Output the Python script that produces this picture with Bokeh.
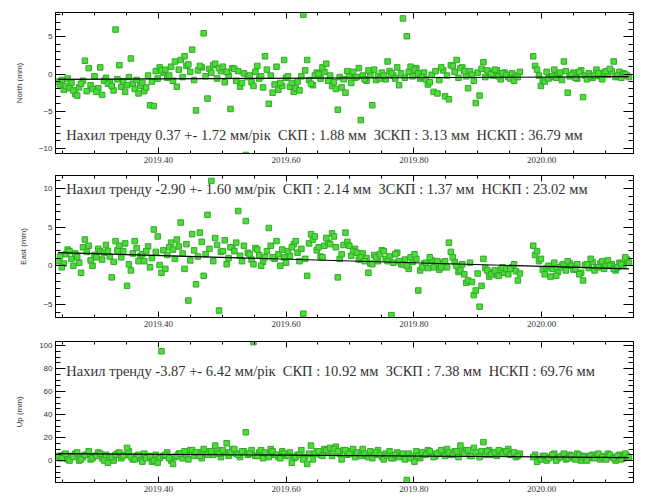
from bokeh.plotting import figure
from bokeh.layouts import column
from bokeh.models import (ColumnDataSource, FixedTicker, PrintfTickFormatter, LinearAxis,
                          Label, CustomJSTickFormatter, Range1d)
from bokeh.embed import file_html
from bokeh.resources import INLINE

# ---------------- data ----------------
epochs = [
    2019.243, 2019.249, 2019.255, 2019.261, 2019.267, 2019.273, 2019.279, 2019.285, 2019.291, 2019.297,
    2019.303, 2019.309, 2019.315, 2019.321, 2019.327, 2019.333, 2019.339, 2019.345, 2019.351, 2019.357,
    2019.363, 2019.369, 2019.375, 2019.381, 2019.387, 2019.393, 2019.399, 2019.405, 2019.411, 2019.417,
    2019.423, 2019.429, 2019.435, 2019.441, 2019.447, 2019.453, 2019.459, 2019.465, 2019.471, 2019.477,
    2019.483, 2019.489, 2019.495, 2019.501, 2019.507, 2019.513, 2019.519, 2019.525, 2019.531, 2019.537,
    2019.543, 2019.549, 2019.555, 2019.561, 2019.567, 2019.573, 2019.579, 2019.585, 2019.591, 2019.597,
    2019.603, 2019.609, 2019.615, 2019.621, 2019.627, 2019.633, 2019.639, 2019.645, 2019.651, 2019.657,
    2019.663, 2019.669, 2019.675, 2019.681, 2019.687, 2019.693, 2019.699, 2019.705, 2019.711, 2019.717,
    2019.723, 2019.729, 2019.735, 2019.741, 2019.747, 2019.753, 2019.759, 2019.765, 2019.771, 2019.777,
    2019.783, 2019.789, 2019.795, 2019.801, 2019.807, 2019.813, 2019.819, 2019.825, 2019.831, 2019.837,
    2019.843, 2019.849, 2019.855, 2019.861, 2019.867, 2019.873, 2019.879, 2019.885, 2019.891, 2019.897,
    2019.903, 2019.909, 2019.915, 2019.921, 2019.927, 2019.933, 2019.939, 2019.945, 2019.951, 2019.957,
    2019.963,
    2019.987, 2019.993, 2019.999, 2020.005, 2020.011, 2020.017, 2020.023, 2020.029, 2020.035, 2020.041,
    2020.047, 2020.053, 2020.059, 2020.065, 2020.071, 2020.077, 2020.083, 2020.089, 2020.095, 2020.101,
    2020.107, 2020.113, 2020.119, 2020.125, 2020.131, 2020.137,
]

north = [
    -1.0, -0.8, -1.6, -1.9, -2.2, -2.9, -1.3, 1.8, 0.8, -2.0,
    -2.4, 0.9, -0.9, -1.3, -1.6, 6.0, 1.2, -1.0, -1.5, 2.1,
    -2.0, -2.6, -1.2, -1.8, -4.2, -4.3, -0.6, 0.5, 0.6, -0.2,
    -0.9, -1.7, 1.9, 2.4, 1.3, 3.3, -4.9, 1.1, 5.5, -3.3,
    0.2, 1.4, 0.8, 1.0, 0.3, -4.7, 0.7, 0.4, -1.2, -10.9,
    -0.2, -1.6, 1.1, -0.3, 2.4, -4.0, -2.5, 1.0, -1.2, 1.9,
    -0.3, -1.2, -1.9, -2.2, 8.0, 1.9, -1.3, -0.2, 0.0, 0.9,
    1.4, -0.2, -1.1, -4.8, -1.8, -2.5, -0.3, 0.3, -0.4, -6.2,
    -0.7, 0.5, -4.2, -0.8, -0.6, -0.2, 1.7, 0.1, -0.6, -1.5,
    7.5, 5.1, 1.0, 0.6, 0.1, -0.4, -0.7, -1.1, -2.4, -2.6,
    0.9, -3.0, -3.4, 1.1, 1.9, 0.8, 0.4, -1.9, -0.1, -3.9,
    -2.9, 1.6, 0.5, 0.0, 0.6, -0.3, 0.1, -0.1, -0.6, -0.9,
    -0.4,
    2.4, 0.6, -1.6, -1.0, -0.6, -0.3, -0.5, 0.2, 1.7, -2.5,
    -0.1, -0.5, 0.3, -3.1, -0.7, -0.3, -0.2, 0.1, -0.7, 0.4,
    0.7, 1.7, -0.2, -0.5, 0.0, -0.4,
]

east = [
    0.6, -0.2, 1.5, 1.9, 0.0, 1.1, -0.9, 3.4, 2.6, 0.0,
    1.1, 1.9, 1.7, 1.9, -1.5, 3.2, 2.6, 1.9, -2.6, -0.6,
    3.2, 0.6, 1.5, 1.9, -0.2, 4.7, 3.8, -0.9, -0.4, 2.4,
    2.1, 3.4, 5.6, -0.4, -4.5, 4.1, -2.4, 4.3, -1.3, 6.6,
    11.0, 3.6, -5.8, 1.9, 0.2, 2.4, 1.9, 7.1, 0.6, 5.8,
    1.5, 0.2, 2.1, 0.0, 1.1, 4.9, 1.1, 3.2, 0.0, 1.1,
    1.9, 2.4, 3.2, 0.6, -6.2, -1.3, 4.1, 3.8, 2.4, 1.1,
    3.6, 2.8, 3.8, -1.5, 1.5, 4.3, 2.6, 1.9, 1.7, 1.1,
    0.6, -0.9, 0.2, 1.1, 1.5, 1.9, 0.6, -6.4, 1.5, 0.6,
    0.2, 0.0, 1.1, 1.5, -3.2, -0.2, 0.4, 1.1, -0.2, 0.6,
    -0.2, 0.6, 3.0, 1.1, 0.0, -0.6, -1.1, -1.9, -2.1, -3.2,
    -5.3, 0.9, -0.6, -1.1, -0.6, -1.3, -0.2, -0.4, -0.4, 0.2,
    -1.9,
    2.6, 1.9, 0.9, -1.1, 0.0, -0.4, -1.3, -0.2, 0.2, 0.6,
    0.0, -0.4, -1.1, -1.9, 0.2, 0.9, -0.6, -0.2, 0.6, 0.0,
    0.0, -0.4, -0.2, 0.2, 1.1, 0.4,
]

up = [
    4, 2, 6, 0, 3, 7, 1, 5, 8, 2,
    4, 6, 0, -2, 3, 5, 7, 4, 11, 3,
    1, 5, -1, 2, 4, 0, -2, 95, 5, 2,
    -3, 4, 6, 8, 1, 9, 7, 4, 10, 5,
    8, 13, 6, 9, 15, 7, 10, 5, 8, 24.6,
    6, 103, 4, 9, 7, 3, 8, 5, 2, 6,
    4, -2, 3, 5, 1, -3, 13, 6, 8, 4,
    9, 11, 10, 8, 1, 9, 6, 10, 7, 4,
    6, 3, 2, 7, 5, 1, 4, 2, 5, 3,
    6, -17, 2, -1, 4, 7, 5, 8, 3, 6,
    9, 4, 7, 5, 8, 13, 6, 9, 4, 7,
    3, 16, 8, 5, 7, 9, 6, 8, 5, 7,
    4,
    3, -1, 1, 4, 2, 5, 0, 3, 6, 2,
    4, 1, 5, 3, 0, 4, 2, 6, 3, 1,
    5, 2, 4, 1, 6, 3,
]

# second (interleaved) set of daily solutions
epochs_b = [
    2019.246, 2019.252, 2019.258, 2019.264, 2019.270, 2019.276, 2019.282, 2019.288, 2019.294, 2019.300,
    2019.306, 2019.312, 2019.318, 2019.324, 2019.330, 2019.336, 2019.342, 2019.348, 2019.354, 2019.360,
    2019.366, 2019.372, 2019.378, 2019.384, 2019.390, 2019.396, 2019.402, 2019.408, 2019.414, 2019.420,
    2019.426, 2019.432, 2019.438, 2019.444, 2019.450, 2019.456, 2019.462, 2019.468, 2019.474, 2019.480,
    2019.486, 2019.492, 2019.498, 2019.504, 2019.510, 2019.516, 2019.522, 2019.528, 2019.534, 2019.540,
    2019.546, 2019.552, 2019.558, 2019.564, 2019.570, 2019.576, 2019.582, 2019.588, 2019.594, 2019.600,
    2019.606, 2019.612, 2019.618, 2019.624, 2019.630, 2019.636, 2019.642, 2019.648, 2019.654, 2019.660,
    2019.666, 2019.672, 2019.678, 2019.684, 2019.690, 2019.696, 2019.702, 2019.708, 2019.714, 2019.720,
    2019.726, 2019.732, 2019.738, 2019.744, 2019.750, 2019.756, 2019.762, 2019.768, 2019.774, 2019.780,
    2019.786, 2019.792, 2019.798, 2019.804, 2019.810, 2019.816, 2019.822, 2019.828, 2019.834, 2019.840,
    2019.846, 2019.852, 2019.858, 2019.864, 2019.870, 2019.876, 2019.882, 2019.888, 2019.894, 2019.900,
    2019.906, 2019.912, 2019.918, 2019.924, 2019.930, 2019.936, 2019.942, 2019.948, 2019.954, 2019.960,
    2019.966,
    2019.990, 2019.996, 2020.002, 2020.008, 2020.014, 2020.020, 2020.026, 2020.032, 2020.038, 2020.044,
    2020.050, 2020.056, 2020.062, 2020.068, 2020.074, 2020.080, 2020.086, 2020.092, 2020.098, 2020.104,
    2020.110, 2020.116, 2020.122, 2020.128, 2020.134,
]

north_b = [
    -1.4, -2.1, -0.6, -1.2, -2.7, -1.8, -0.9, -2.3, -1.5, -0.3,
    -1.9, -2.8, -0.5, -1.1, -2.2, -0.7, -1.7, -2.4, -0.4, -1.3,
    -0.8, -1.6, -2.3, -0.2, -1.0, 0.4, 0.9, 0.2, -0.5, 1.0,
    1.7, 0.6, -0.4, 1.1, 0.3, -0.8, 0.5, 0.9, -0.3, 0.7,
    1.2, -0.6, 0.4, -1.1, -0.2, 0.8, -0.9, -1.7, 0.1, -0.4,
    -1.1, 0.3, -0.6, -1.8, 0.6, -0.2, -1.4, -2.1, -1.6, -0.5,
    -1.7, -2.4, -1.0, -0.3, 0.5, -0.8, -1.5, 0.2, -0.6, 0.3,
    -0.9, -1.6, -2.0, -0.4, -0.7, 0.4, -1.2, -0.5, 0.8, -0.2,
    -0.9, -0.1, 0.6, -0.3, 0.2, -0.7, 0.4, -0.2, 0.9, 0.1,
    -0.5, 0.3, -0.3, 0.8, -0.6, 0.2, -1.4, -0.1, 0.4, -0.8,
    0.5, -0.2, 1.2, 0.3, -0.5, 0.9, -0.3, 0.4, -0.9, 0.2,
    0.7, -0.4, 0.3, -0.2, 0.5, -0.7, 0.2, -0.4, 0.1, -0.2,
    0.3,
    1.1, -0.2, -0.9, 0.3, -0.4, 0.6, -0.1, -0.8, 0.4, -0.3,
    0.2, -0.6, 0.5, -0.2, 0.1, -0.5, 0.6, -0.3, 0.2, -0.1,
    0.4, -0.4, 0.3, 0.1, -0.2,
]

east_b = [
    1.2, 0.3, 2.1, 0.9, 1.6, 0.4, 2.4, 1.8, 0.7, 1.4,
    2.2, 0.8, 2.7, 1.2, 0.5, 2.0, 1.1, 2.9, 0.2, 1.6,
    2.3, 1.3, 0.6, 2.5, 1.0, 1.8, 0.1, 2.0, 1.4, 3.0,
    0.9, 2.5, 1.6, 2.8, 0.7, 2.0, 1.2, 3.1, 1.5, 2.2,
    0.6, 2.7, 1.8, 3.3, 1.0, 2.4, 3.0, 1.3, 2.6, 1.7,
    0.8, 2.3, 1.4, 0.5, 1.9, 2.6, 0.9, 1.5, 2.1, 0.4,
    1.3, 2.8, 1.7, 2.2, 0.9, 2.9, 3.4, 2.0, 1.2, 2.6,
    3.0, 4.2, 2.4, 0.9, 2.7, 3.1, 1.3, 2.2, 0.8, 1.6,
    1.0, 0.3, 1.4, 0.6, 2.0, 0.9, 1.2, 0.4, 1.7, 0.2,
    0.8, -0.4, 0.5, 0.9, -0.6, 0.3, -0.3, 0.7, 0.1, -0.5,
    0.4, -0.2, 1.8, 0.5, -0.8, 0.2, -2.2, 0.4, -3.8, -1.0,
    -2.6, -0.3, -1.4, -0.8, -1.2, -0.5, -0.9, -1.1, -0.2, -0.7,
    -1.0,
    1.4, 0.6, -0.5, -0.3, -1.4, 0.4, -0.8, 0.1, -0.6, 0.3,
    -0.5, 0.2, -0.9, 0.1, -0.3, 0.5, -0.2, 0.3, -0.4, 0.7,
    0.2, -0.6, 0.4, 0.0, 0.8,
]

up_b = [
    2, 5, 1, 4, 6, 0, 3, 5, 1, 4,
    7, 2, 5, 3, 0, 6, 2, 5, 8, 1,
    4, 2, 6, 3, -1, 5, 2, 4, 7, 0,
    3, 6, 2, 5, 9, 4, 7, 2, 6, 8,
    5, 9, 3, 7, 4, 10, 6, 3, 8, 5,
    9, 4, 7, 2, 6, 10, 5, 3, 8, 4,
    7, 2, 5, 9, 3, 6, 1, 8, 5, 10,
    7, 4, 12, 6, 9, 5, 8, 3, 7, 10,
    4, 8, 5, 9, 3, 6, 8, 2, 7, 4,
    1, 6, 4, 8, 2, 5, 9, 6, 4, 7,
    6, 10, 5, 8, 3, 7, 9, 4, 11, 6,
    8, 5, 9, 7, 4, 8, 6, 10, 5, 3,
    6,
    5, 1, 4, 0, 3, 6, 2, 4, 1, 5,
    2, 6, 0, 4, 2, 5, 3, 1, 4, 6,
    3, 0, 5, 2, 4,
]

trend_epochs = [2019.243, 2020.137]
north_trend = [-0.7, -0.35]
east_trend = [1.7, -0.4]
up_trend = [6.0, 2.6]

x_ticks = [2019.2, 2019.4, 2019.6, 2019.8, 2020.0, 2020.2]
x_minor = [2019.20, 2019.25, 2019.30, 2019.35, 2019.40, 2019.45, 2019.50, 2019.55, 2019.60,
           2019.65, 2019.70, 2019.75, 2019.80, 2019.85, 2019.90, 2019.95, 2020.00, 2020.05,
           2020.10, 2020.15, 2020.20]

north_ticks = [-10, -5, 0, 5]
north_minor = list(range(-11, 10))
east_ticks = [-5, 0, 5, 10]
east_minor = list(range(-7, 13))
up_ticks = [0, 20, 40, 60, 80, 100]
up_minor = list(range(-20, 106, 5))

SP = "\u00a0\u00a0"
north_text = ("Нахил тренду 0.37 +- 1.72 мм/рік" + SP + "СКП : 1.88 мм" + SP +
              "ЗСКП : 3.13 мм" + SP + "НСКП : 36.79 мм")
east_text = ("Нахил тренду -2.90 +- 1.60 мм/рік" + SP + "СКП : 2.14 мм" + SP +
             "ЗСКП : 1.37 мм" + SP + "НСКП : 23.02 мм")
up_text = ("Нахил тренду -3.87 +- 6.42 мм/рік" + SP + "СКП : 10.92 мм" + SP +
           "ЗСКП : 7.38 мм" + SP + "НСКП : 69.76 мм")

X_START, X_END = 2019.239, 2020.144

FILL = "#4cdc38"
EDGE = "#34a82c"
TXT = "#333333"
SERIF = "Liberation Serif, Times New Roman, serif"


def style_x(ax, labels):
    ax.ticker = FixedTicker(ticks=x_ticks, minor_ticks=x_minor)
    ax.major_tick_in = 6
    ax.major_tick_out = 0
    ax.minor_tick_in = 3
    ax.minor_tick_out = 0
    ax.axis_line_color = "black"
    ax.major_tick_line_color = "black"
    ax.minor_tick_line_color = "black"
    if labels:
        ax.formatter = PrintfTickFormatter(format="%.2f")
        ax.major_label_text_font = SERIF
        ax.major_label_text_font_size = "9px"
        ax.major_label_text_color = TXT
        ax.major_label_standoff = 3
    else:
        ax.formatter = CustomJSTickFormatter(code="return ''")
        ax.major_label_standoff = 0


def style_y(ax, ticks, minor, labels, name=None):
    ax.ticker = FixedTicker(ticks=ticks, minor_ticks=minor)
    ax.major_tick_in = 10
    ax.major_tick_out = 0
    ax.minor_tick_in = 5
    ax.minor_tick_out = 0
    ax.axis_line_color = "black"
    ax.major_tick_line_color = "black"
    ax.minor_tick_line_color = "black"
    if labels:
        ax.major_label_text_font = "Liberation Sans"
        ax.major_label_text_font_size = "8px"
        ax.major_label_text_color = TXT
        ax.major_label_standoff = 3
        ax.axis_label = name
        ax.axis_label_text_font = "Liberation Sans"
        ax.axis_label_text_font_size = "8px"
        ax.axis_label_text_font_style = "normal"
        ax.axis_label_text_color = TXT
        ax.axis_label_standoff = 12
    else:
        ax.formatter = CustomJSTickFormatter(code="return ''")
        ax.major_label_standoff = 0


def panel(values, values_b, trend, yr, ticks, minor, name, text, text_y, height, top, bottom):
    p = figure(width=649, height=height, output_backend="svg", toolbar_location=None,
               x_range=Range1d(X_START, X_END), y_range=Range1d(*yr),
               min_border_left=55, min_border_right=16,
               min_border_top=top, min_border_bottom=bottom)
    p.xgrid.visible = False
    p.ygrid.visible = False
    p.outline_line_color = "black"
    p.background_fill_color = "white"
    p.border_fill_color = "white"

    style_x(p.xaxis[0], True)
    style_y(p.yaxis[0], ticks, minor, True, name)
    ax_top = LinearAxis()
    style_x(ax_top, False)
    p.add_layout(ax_top, "above")
    ax_right = LinearAxis()
    style_y(ax_right, ticks, minor, False)
    p.add_layout(ax_right, "right")

    src_b = ColumnDataSource(dict(t=epochs_b, v=values_b))
    p.scatter("t", "v", source=src_b, marker="square", size=5.5,
              fill_color=FILL, line_color=EDGE, line_width=1)
    src = ColumnDataSource(dict(t=epochs, v=values))
    p.scatter("t", "v", source=src, marker="square", size=5.5,
              fill_color=FILL, line_color=EDGE, line_width=1)
    p.line(trend_epochs, trend, line_color="black", line_width=1.2)

    p.add_layout(Label(x=2019.256, y=text_y, text=text, text_font=SERIF,
                       text_font_size="14.5px", text_color=TXT, text_baseline="middle"))
    return p


p1 = panel(north, north_b, north_trend, (-10.7, 8.3), north_ticks, north_minor, "North (mm)",
           north_text, -8.2, 170, 12, 17)
p2 = panel(east, east_b, east_trend, (-6.7, 11.7), east_ticks, east_minor, "East (mm)",
           east_text, 10.0, 160, 5, 13)
p3 = panel(up, up_b, up_trend, (-19.1, 103.5), up_ticks, up_minor, "Up (mm)",
           up_text, 78.0, 170, 11, 18)

layout = column(p1, p2, p3, spacing=0)
open("out.html", "w").write(file_html(layout, INLINE))
